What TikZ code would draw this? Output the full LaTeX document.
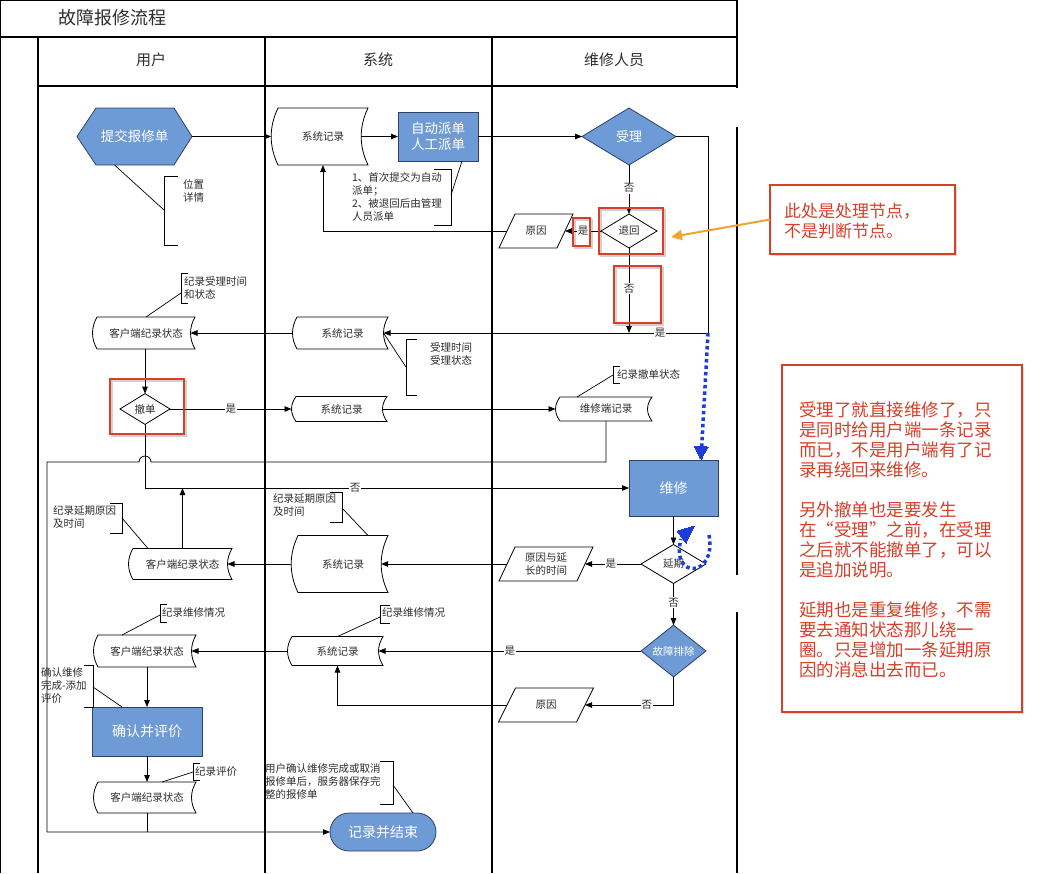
\documentclass[tikz,border=0pt]{standalone}
\usepackage{fontspec}
\setmainfont{Noto Sans CJK SC}
\usetikzlibrary{arrows.meta,calc,shapes.geometric,shapes.misc,shadows}
\pgfdeclarelayer{frmlayer}
\pgfdeclarelayer{shplayer}
\pgfsetlayers{frmlayer,shplayer,main}
\definecolor{blueA}{RGB}{110,155,214}
\definecolor{blueD}{RGB}{45,65,105}
\definecolor{redA}{RGB}{214,64,42}
\definecolor{orangeA}{RGB}{240,162,52}
\definecolor{dotblue}{RGB}{30,60,215}
\definecolor{txt}{RGB}{45,45,45}
\newcommand\fs[2]{\fontsize{#1}{#2}\selectfont}
% stored-data shape: name, cx, cy, w, h, text
\newcommand\sdshape[6]{%
  \pgfmathsetmacro\mysdd{max(4.5,0.12*#5)}%
  \node[sdnode, minimum width=#4pt, minimum height=#5pt] (#1) at (#2,#3) {#6};
  \begin{pgfonlayer}{shplayer}
  \draw[shp] (#1.north west) .. controls +(-1.33*\mysdd,#5/3) and +(-1.33*\mysdd,-#5/3) .. (#1.south west) -- (#1.south east) .. controls +(-1.33*\mysdd,-#5/3) and +(-1.33*\mysdd,#5/3) .. (#1.north east) -- cycle;
  \end{pgfonlayer}
  \coordinate (#1r) at ($(#1.east)+(-\mysdd,0)$);
  \coordinate (#1l) at ($(#1.west)+(-\mysdd,0)$);
}
% parallelogram: name, cx, cy, w, h, skew, text
\newcommand\pgram[7]{%
  \node[pgnode, minimum width=#4pt, minimum height=#5pt] (#1) at (#2,#3) {#7};
  \begin{pgfonlayer}{shplayer}
  \draw[shp] ($(#1.south west)+(-#6/2,0)$) -- ($(#1.south east)+(-#6/2,0)$) -- ($(#1.north east)+(#6/2,0)$) -- ($(#1.north west)+(#6/2,0)$) -- cycle;
  \end{pgfonlayer}
}
% highlight box
\newcommand\hlbox[4]{%
  \draw[black, opacity=0.18, line width=2pt] (#1+1.5,#2+1.5) rectangle (#3+1.5,#4+1.5);
  \draw[hlb] (#1,#2) rectangle (#3,#4);
}
\begin{document}
\begin{tikzpicture}[x=1pt,y=-1pt,
  every node/.style={inner sep=0pt, outer sep=0pt, text=txt},
  ln/.style={line width=0.8pt, draw=black},
  arr/.style={ln, -{Triangle[length=7pt,width=5.5pt]}},
  frm/.style={line width=1.2pt, draw=black},
  shp/.style={line width=0.8pt, draw=black, fill=white},
  bshp/.style={line width=0.8pt, draw=blueD, fill=blueA},
  small/.style={font=\fs{10.5}{13}},
  sdnode/.style={small, draw=none},
  pgnode/.style={small, align=center},
  dia/.style={diamond, line width=0.8pt, draw=black, fill=white, small},
  bdia/.style={dia, draw=blueD, fill=blueA, text=white},
  brect/.style={rectangle, bshp, text=white, font=\fs{14}{17}, align=center},
  lbl/.style={fill=white, inner sep=1pt, small},
  note/.style={small, anchor=west, align=left},
  hlb/.style={draw=redA, line width=2pt},
  callout/.style={draw=redA, fill=white, line width=2.2pt, drop shadow={shadow xshift=2pt, shadow yshift=-2pt, opacity=0.3}},
  calltext/.style={text=redA, anchor=west, align=left},
  dotarr/.style={draw=dotblue, line width=3.5pt, dash pattern=on 3.5pt off 3pt},
  brk/.style={line width=0.7pt, draw=black},
]
\useasboundingbox (0,0) rectangle (1044,873);

% ---------- frame ----------
\begin{pgfonlayer}{frmlayer}
\fill[white] (0,0) rectangle (1044,873);
\draw[frm] (0.6,0.6) -- (737,0.6);
\draw[frm] (0.6,0) -- (0.6,873);
\draw[line width=1.8pt] (0,37) -- (737,37);
\draw[frm] (38,86) -- (737,86);
\draw[frm] (38,37) -- (38,873);
\draw[frm] (265,37) -- (265,873);
\draw[frm] (492,37) -- (492,873);
\draw[frm] (737,0) -- (737,88);
\draw[frm] (737,127) -- (737,575);
\draw[frm] (737,612) -- (737,873);
\end{pgfonlayer}
\node[anchor=west, font=\fs{18}{20}] (title) at (58,18) {故障报修流程};
\node[font=\fs{15}{18}] (hU) at (151,60) {用户};
\node[font=\fs{15}{18}] (hS) at (378,60) {系统};
\node[font=\fs{15}{18}] (hW) at (614,60) {维修人员};

% ---------- shapes ----------
\node[draw=none, minimum width=115pt, minimum height=57pt, text=white, font=\fs{13.5}{16}] (hx) at (134.5,136.5) {提交报修单};
\begin{pgfonlayer}{shplayer}
\draw[bshp] (hx.west) -- ($(hx.north west)+(19,0)$) -- ($(hx.north east)+(-18,0)$) -- (hx.east) -- ($(hx.south east)+(-18,0)$) -- ($(hx.south west)+(19,0)$) -- cycle;
\end{pgfonlayer}

\sdshape{sr1}{323}{136.5}{90}{57}{系统记录}
\node[brect, minimum width=80pt, minimum height=49pt, font=\fs{13.5}{16.5}] (zd) at (438,136.5) {自动派单\\人工派单};
\node[bdia, minimum width=94pt, minimum height=57pt, font=\fs{13}{15}] (sl) at (629,136.5) {受理};
\node[dia, minimum width=56pt, minimum height=34pt] (th) at (629,231) {退回};
\pgram{p1}{536}{231}{58}{34}{16}{原因}

\sdshape{cs1}{146}{333}{98}{32}{客户端纪录状态}
\sdshape{sr2}{342.5}{333}{91}{32}{系统记录}
\node[dia, minimum width=50pt, minimum height=30pt] (cd) at (145,409) {撤单};
\sdshape{sr3}{341.5}{409}{91}{25}{系统记录}
\sdshape{wr}{606}{409}{92}{24}{维修端记录}

\node[brect, minimum width=89pt, minimum height=56pt] (wx) at (673.5,488) {维修};
\node[dia, minimum width=65pt, minimum height=39pt] (yq) at (673.5,564) {延期};
\pgram{p2}{546}{564}{78}{34}{16}{原因与延\\长的时间}
\sdshape{sr4}{343}{564}{90}{57}{系统记录}
\sdshape{cs2}{182.5}{564}{99}{31}{客户端纪录状态}

\node[bdia, minimum width=65pt, minimum height=38pt] (gz) at (673.5,651) {故障排除};
\sdshape{sr5}{337.5}{651}{91}{29}{系统记录}
\pgram{p3}{546}{705}{78}{34}{17}{原因}
\sdshape{cs3}{147}{651}{98}{32}{客户端纪录状态}
\node[brect, minimum width=110pt, minimum height=49pt] (qr) at (147,731.5) {确认并评价};
\sdshape{cs4}{147}{797.5}{98}{31}{客户端纪录状态}
\node[rounded rectangle, bshp, minimum width=106pt, minimum height=38pt, text=white, font=\fs{14}{17}] (en) at (383,832) {记录并结束};

% ---------- connectors ----------
\draw[arr] (hx.east) -- (sr1l);
\draw[arr] (sr1r) -- (zd.west);
\draw[arr] (zd.east) -- (sl.west);
\coordinate (jn) at (708,333);
\draw[arr] (sl.east) -| (jn) -- (sr2r);
\node[lbl] (lshi1) at (660,333) {是};
\draw[arr] (sl.south) -- node[lbl,pos=0.47] (lf1) {否} (th.north);
\draw[arr] (th.west) -- node[lbl,pos=0.5] (ls1) {是} (p1.east);
\draw[arr] (p1.west) -| (sr1.south);
\draw[arr] (th.south) -- node[lbl,pos=0.48] (lf2) {否} (th.south |- jn);
\draw[arr] (sr2l) -- (cs1r);
\draw[arr] (cd.north |- cs1.south) -- (cd.north);
\draw[arr] (cd.east) -- node[lbl,pos=0.5] (ls2) {是} (sr3l);
\draw[arr] (sr3r) -- (wrl);
\coordinate (hop) at (151,462);
\coordinate (lft) at (47,462);
\draw[arr] (wr.south) |- (hop) arc[start angle=0, end angle=-180, radius=6] -- (lft) |- (en.west);
\draw[arr] (cd.south) |- node[lbl,pos=0.717] (lf3) {否} (wx.west);
\draw[arr] (wx.south) -- (yq.north);
\draw[arr] (yq.west) -- node[lbl,pos=0.54] (ls3) {是} (p2.east);
\draw[arr] (p2.west) -- (sr4r);
\draw[arr] (sr4l) -- (cs2r);
\draw[arr] (cs2.north) -- (cs2.north |- wx.west);
\draw[arr] (yq.south) -- node[lbl,pos=0.46] (lf4) {否} (gz.north);
\draw[arr] (gz.west) -- node[lbl,pos=0.5] (ls4) {是} (sr5r);
\draw[arr] (gz.south) |- node[lbl,pos=0.65] (lf5) {否} (p3.east);
\draw[arr] (p3.west) -| (sr5.south);
\draw[arr] (sr5l) -- (cs3r);
\draw[arr] (cs3.south) -- (qr.north);
\draw[arr] (qr.south) -- (cs4.north);
\draw[ln] (cs4.south) -- (cs4.south |- en.west);

% ---------- annotations ----------
\coordinate (bA) at (164,210);
\draw[brk] ($(hx.south)+(-20,0)$) -- (bA);
\draw[brk] (178,176) -- (164,176) -- (164,245) -- (178,245);
\node[note] (nA) at (183,191) {位置\\详情};

\coordinate (bB) at (451,195);
\draw[brk] ($(zd.south east)+(-16,0)$) -- (bB);
\draw[brk] (434,169) -- (451,169) -- (451,225) -- (434,225);
\node[note] (nB) at (352,197) {1、首次提交为自动\\派单；\\2、被退回后由管理\\人员派单};

\coordinate (bC) at (181,293);
\draw[brk] (cs1.north) -- (bC);
\draw[brk] (188,273) -- (181,273) -- (181,303) -- (188,303);
\node[note] (nC) at (184,287.5) {纪录受理时间\\和状态};

\coordinate (bD) at (406,367);
\draw[brk] (sr2r) -- (bD);
\draw[brk] (417,339) -- (406,339) -- (406,395) -- (417,395);
\node[note] (nD) at (430,354) {受理时间\\受理状态};

\coordinate (bE) at (613,375);
\draw[brk] ($(wr.north west)+(17,0)$) -- (bE);
\draw[brk] (620,366) -- (613,366) -- (613,383) -- (620,383);
\node[note] (nE) at (617,374.5) {纪录撤单状态};

\coordinate (bF) at (342,508);
\draw[brk] ($(sr4.north east)+(-20,0)$) -- (bF);
\draw[brk] (330,492) -- (342,492) -- (342,522) -- (330,522);
\node[note] (nF) at (273,505.5) {纪录延期原因\\及时间};

\coordinate (bG) at (122,518);
\draw[brk] ($(cs2.north west)+(15,0)$) -- (bG);
\draw[brk] (110,503) -- (122,503) -- (122,533) -- (110,533);
\node[note] (nG) at (53,517) {纪录延期原因\\及时间};

\coordinate (bH) at (380,617);
\draw[brk] (sr5.north) -- (bH);
\draw[brk] (390,605) -- (380,605) -- (380,623) -- (390,623);
\node[note] (nH) at (382,612.5) {纪录维修情况};

\coordinate (bI) at (160,615);
\draw[brk] ($(cs3.north west)+(24,0)$) -- (bI);
\draw[brk] (167,604) -- (160,604) -- (160,622) -- (167,622);
\node[note] (nI) at (162,612.5) {纪录维修情况};

\coordinate (bJ) at (93,687);
\draw[brk] ($(qr.north west)+(30,0)$) -- (bJ);
\draw[brk] (84,665) -- (93,665) -- (93,707) -- (84,707);
\node[note] (nJ) at (41,686) {确认维修\\完成-添加\\评价};

\coordinate (bK) at (193,772);
\draw[brk] ($(cs4.north)+(15,0)$) -- (bK);
\draw[brk] (200,763) -- (193,763) -- (193,780) -- (200,780);
\node[note] (nK) at (195,771.5) {纪录评价};

\coordinate (bL) at (393,785);
\draw[brk] ($(en.north)+(30,0)$) -- (bL);
\draw[brk] (380,761) -- (393,761) -- (393,804) -- (380,804);
\node[note] (nL) at (265,781.5) {用户确认维修完成或取消\\报修单后，服务器保存完\\整的报修单};

% ---------- review marks ----------
\hlbox{573}{218}{590}{246}
\hlbox{599}{208}{663}{254}
\hlbox{614}{266}{661}{323}
\hlbox{110}{379}{184}{434}

\draw[dotarr] (jn) -- ($(wx.north east)+(-17,-1)$);
\draw[draw=dotblue, line width=0pt, fill=dotblue] ($(wx.north east)+(-17,-1)$) -- ++(-7,-13) -- ++(14,1) -- cycle;
\coordinate (dcS) at (709,535);
\coordinate (dcE) at (681,539);
\draw[dotarr] (dcS) .. controls (717,578) and (670,580) .. (dcE);
\draw[draw=dotblue, line width=0pt, fill=dotblue] (694,526) -- (677,531) -- (686,543) -- cycle;

\node[callout, minimum width=185pt, minimum height=69pt] (c1) at (862.5,219.5) {};
\node[calltext, font=\fs{17}{19.5}] (c1t) at (784,221) {此处是处理节点，\\不是判断节点。};
\draw[line width=2pt, draw=orangeA, -{Triangle[length=11pt,width=10pt]}] (c1.west) -- ($(th.east)+(14,6)$);

\node[callout, minimum width=240pt, minimum height=347pt] (c2) at (902,538.5) {};
\node[calltext, font=\fs{17.5}{20}] (c2t) at (799,540) {受理了就直接维修了，只\\是同时给用户端一条记录\\而已，不是用户端有了记\\录再绕回来维修。\\[20pt]另外撤单也是要发生\\在“受理”之前，在受理\\之后就不能撤单了，可以\\是追加说明。\\[20pt]延期也是重复维修，不需\\要去通知状态那儿绕一\\圈。只是增加一条延期原\\因的消息出去而已。};
\end{tikzpicture}
\end{document}
